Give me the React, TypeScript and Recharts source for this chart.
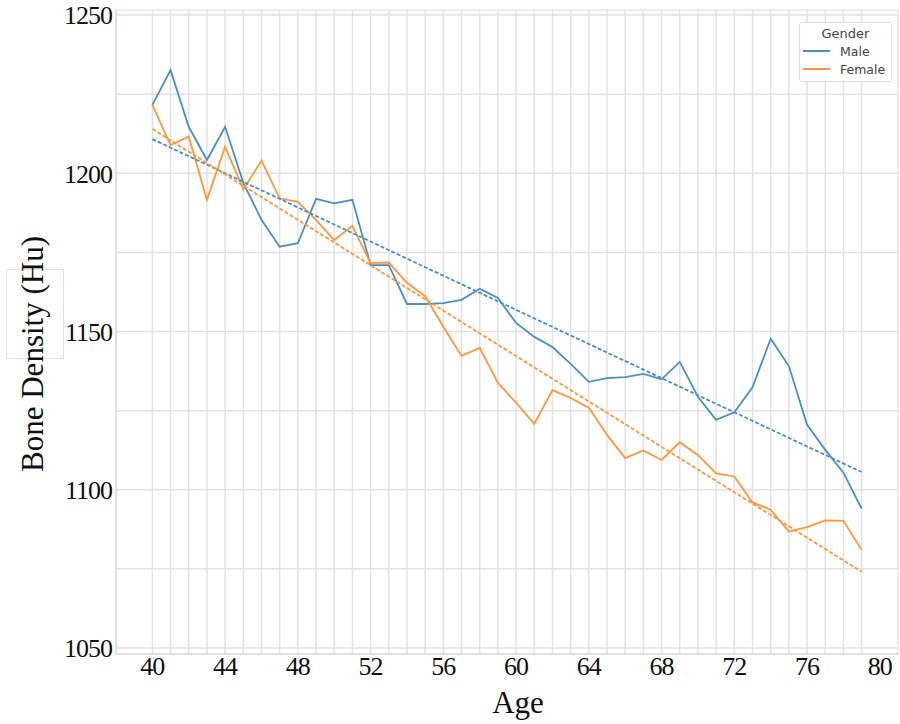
import { LineChart, Line, XAxis, YAxis, ReferenceLine, ReferenceArea, Label } from "recharts";

const ages = [40, 41, 42, 43, 44, 45, 46, 47, 48, 49, 50, 51, 52, 53, 54, 55, 56, 57, 58, 59,
  60, 61, 62, 63, 64, 65, 66, 67, 68, 69, 70, 71, 72, 73, 74, 75, 76, 77, 78, 79];

const maleDensity = [1221.6, 1232.6, 1214.7, 1204.2, 1214.7, 1197, 1185.3, 1176.8, 1177.9, 1191.9,
  1190.5, 1191.6, 1171, 1171, 1158.7, 1158.7, 1159, 1160, 1163.5, 1160.6,
  1152.7, 1148.3, 1145.1, 1139.8, 1134.1, 1135.3, 1135.6, 1136.6, 1134.9, 1140.4,
  1129.4, 1122.1, 1124.5, 1132.4, 1147.7, 1139.1, 1120.5, 1112.6, 1105.4, 1094];

const femaleDensity = [1221.6, 1208.9, 1211.6, 1191.6, 1208.4, 1194.9, 1204, 1192.1, 1191, 1185.3,
  1178.9, 1183.4, 1171.6, 1171.8, 1165.4, 1161.2, 1151.5, 1142.3, 1144.8, 1133.8,
  1127.5, 1120.8, 1131.5, 1129, 1125.9, 1117.4, 1110, 1112.4, 1109.4, 1115,
  1111, 1105.2, 1104.2, 1096, 1093.7, 1086.8, 1088.2, 1090.3, 1090.2, 1081];

// fitted trend lines, end points (age 40 and age 79)
const trendAges = [40, 79];
const maleTrend = [1210.8, 1105.6];
const femaleTrend = [1214, 1074.1];

const xTicks = [40, 44, 48, 52, 56, 60, 64, 68, 72, 76, 80];
const yTicks = [1050, 1100, 1150, 1200, 1250];
const yGrid = [1050, 1075, 1100, 1125, 1150, 1175, 1200, 1225, 1250];

const MALE = "#4a8fc6";
const FEMALE = "#ff9638";
const GRID = "#e2e2e2";
const SERIF = "'Liberation Serif', 'Times New Roman', serif";

const legendItems = [
  { name: "Male", color: MALE },
  { name: "Female", color: FEMALE },
];

const data = ages.map((age, i) => {
  const t = trendAges.indexOf(age);
  return {
    age,
    male: maleDensity[i],
    female: femaleDensity[i],
    maleTrend: t >= 0 ? maleTrend[t] : null,
    femaleTrend: t >= 0 ? femaleTrend[t] : null,
  };
});

function GenderLegend() {
  return (
    <div
      style={{
        position: "absolute",
        left: 799,
        top: 22,
        width: 93,
        height: 60,
        border: "1px solid #dcdcdc",
        borderRadius: 3,
        background: "rgba(255,255,255,0.9)",
        fontFamily: "'DejaVu Sans', sans-serif",
        color: "#444",
        boxSizing: "border-box",
      }}
    >
      <div style={{ textAlign: "center", fontSize: 13, marginTop: 3, lineHeight: "16px" }}>Gender</div>
      {legendItems.map((p) => (
        <div key={p.name} style={{ display: "flex", alignItems: "center", height: 18, fontSize: 12.5 }}>
          <div style={{ width: 27, height: 2, background: p.color, marginLeft: 3, marginRight: 10 }} />
          <span>{p.name}</span>
        </div>
      ))}
    </div>
  );
}

export default function App() {
  return (
    <div style={{ position: "absolute", left: 0, top: 0, width: 900, height: 724, background: "#fff" }}>
      <div
        style={{
          position: "absolute",
          left: 6,
          top: 269,
          width: 56,
          height: 88,
          border: "1px solid #e0e0e0",
        }}
      />
      <LineChart
        width={900}
        height={724}
        data={data}
        margin={{ top: 10, right: 2, bottom: 30, left: 56 }}
        style={{ position: "absolute", left: 0, top: 0 }}
      >
        <XAxis
          dataKey="age"
          type="number"
          domain={[38, 81]}
          ticks={xTicks}
          height={40}
          tickLine={false}
          tickSize={0}
          tickMargin={3}
          axisLine={{ stroke: "#d4d4d4" }}
          tick={{ fontSize: 26, fontFamily: SERIF, fill: "#111", letterSpacing: -1 }}
        >
          <Label
            content={() => (
              <text x={518} y={713} textAnchor="middle" fontSize={31} fontFamily={SERIF} fill="#111">
                Age
              </text>
            )}
          />
        </XAxis>
        <YAxis
          type="number"
          domain={[1048.1, 1251.6]}
          ticks={yTicks}
          width={60}
          tickLine={false}
          tickSize={0}
          tickMargin={4}
          axisLine={{ stroke: "#d4d4d4" }}
          tick={{ fontSize: 26, fontFamily: SERIF, fill: "#111", letterSpacing: -1 }}
        >
          <Label
            content={() => (
              <text
                x={43}
                y={354}
                transform="rotate(-90 43 354)"
                textAnchor="middle"
                fontSize={31}
                fontFamily={SERIF}
                fill="#111"
              >
                Bone Density (Hu)
              </text>
            )}
          />
        </YAxis>
        {ages.map((a) => (
          <ReferenceLine key={"vx" + a} x={a} stroke={GRID} strokeWidth={1.5} />
        ))}
        {yGrid.map((v) => (
          <ReferenceLine key={"hy" + v} y={v} stroke={GRID} strokeWidth={1.5} />
        ))}
        <ReferenceArea x1={38} x2={81} y1={1048.1} y2={1251.6} fill="none" stroke="#dadada" strokeWidth={1} />
        <Line dataKey="male" name="Male" stroke={MALE} strokeWidth={1.8} dot={false} isAnimationActive={false} />
        <Line dataKey="female" name="Female" stroke={FEMALE} strokeWidth={1.8} dot={false} isAnimationActive={false} />
        <Line
          dataKey="maleTrend"
          stroke={MALE}
          strokeWidth={1.8}
          strokeDasharray="4 2"
          dot={false}
          connectNulls
          isAnimationActive={false}
        />
        <Line
          dataKey="femaleTrend"
          stroke={FEMALE}
          strokeWidth={1.8}
          strokeDasharray="4 2"
          dot={false}
          connectNulls
          isAnimationActive={false}
        />
      </LineChart>
      <GenderLegend />
    </div>
  );
}
